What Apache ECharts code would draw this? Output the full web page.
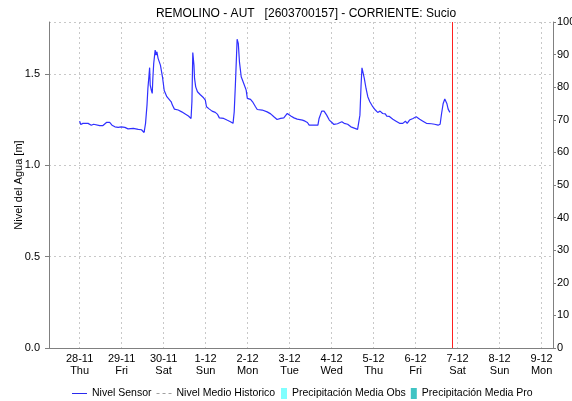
<!DOCTYPE html>
<html>
<head>
<meta charset="utf-8">
<script src="https://cdn.jsdelivr.net/npm/echarts@6/dist/echarts.min.js"></script>
<style>
  html, body { margin: 0; padding: 0; background: #fff; }
  #chart { width: 572px; height: 401px; }
</style>
</head>
<body>
<div id="chart"></div>
<script>
// Nivel del sensor (m) por fecha/hora
const fechas = [
  '2019-11-28 00:00','2019-11-28 00:40','2019-11-28 01:50','2019-11-28 04:50','2019-11-28 06:40',
  '2019-11-28 08:00','2019-11-28 09:00','2019-11-28 11:30','2019-11-28 13:20','2019-11-28 15:20',
  '2019-11-28 16:20','2019-11-28 17:10','2019-11-28 18:30','2019-11-28 20:10','2019-11-28 22:00',
  '2019-11-28 23:50','2019-11-29 01:50','2019-11-29 03:40','2019-11-29 06:40','2019-11-29 09:30',
  '2019-11-29 11:20','2019-11-29 12:20','2019-11-29 12:50','2019-11-29 13:40','2019-11-29 14:30',
  '2019-11-29 15:00','2019-11-29 15:40','2019-11-29 16:00','2019-11-29 16:20','2019-11-29 17:00',
  '2019-11-29 17:30','2019-11-29 17:50','2019-11-29 18:20','2019-11-29 19:10','2019-11-29 19:40',
  '2019-11-29 20:10','2019-11-29 20:50','2019-11-29 21:20','2019-11-29 22:10','2019-11-29 23:20',
  '2019-11-30 00:20','2019-11-30 01:50','2019-11-30 04:20','2019-11-30 05:00','2019-11-30 06:10',
  '2019-11-30 08:20','2019-11-30 10:20','2019-11-30 12:20','2019-11-30 14:10','2019-11-30 15:40',
  '2019-11-30 16:10','2019-11-30 16:40','2019-11-30 17:20','2019-11-30 17:40','2019-11-30 18:20',
  '2019-11-30 19:20','2019-11-30 20:50','2019-11-30 22:50','2019-11-30 23:50','2019-12-01 00:30',
  '2019-12-01 02:10','2019-12-01 03:40','2019-12-01 05:30','2019-12-01 06:50','2019-12-01 07:50',
  '2019-12-01 08:50','2019-12-01 10:20','2019-12-01 12:10','2019-12-01 14:10','2019-12-01 15:40',
  '2019-12-01 16:20','2019-12-01 17:00','2019-12-01 17:40','2019-12-01 18:00','2019-12-01 18:40',
  '2019-12-01 19:20','2019-12-01 20:20','2019-12-01 22:00','2019-12-01 23:10','2019-12-01 23:50',
  '2019-12-02 01:40','2019-12-02 02:50','2019-12-02 04:30','2019-12-02 05:30','2019-12-02 06:20',
  '2019-12-02 08:20','2019-12-02 09:20','2019-12-02 11:10','2019-12-02 13:10','2019-12-02 15:00',
  '2019-12-02 16:50','2019-12-02 18:50','2019-12-02 20:40','2019-12-02 22:40','2019-12-02 23:40',
  '2019-12-03 00:40','2019-12-03 02:30','2019-12-03 04:20','2019-12-03 07:20','2019-12-03 08:50',
  '2019-12-03 10:10','2019-12-03 11:10','2019-12-03 14:00','2019-12-03 16:10','2019-12-03 16:50',
  '2019-12-03 18:20','2019-12-03 19:40','2019-12-03 21:10','2019-12-03 22:40','2019-12-04 00:10',
  '2019-12-04 01:20','2019-12-04 03:20','2019-12-04 04:20','2019-12-04 05:50','2019-12-04 07:10',
  '2019-12-04 09:10','2019-12-04 11:00','2019-12-04 12:00','2019-12-04 14:50','2019-12-04 15:50',
  '2019-12-04 16:10','2019-12-04 16:50','2019-12-04 17:20','2019-12-04 17:50','2019-12-04 18:10',
  '2019-12-04 18:40','2019-12-04 19:40','2019-12-04 20:40','2019-12-04 21:50','2019-12-04 23:30',
  '2019-12-05 01:00','2019-12-05 02:20','2019-12-05 03:40','2019-12-05 05:10','2019-12-05 06:40',
  '2019-12-05 07:30','2019-12-05 09:00','2019-12-05 11:00','2019-12-05 12:50','2019-12-05 14:50',
  '2019-12-05 16:40','2019-12-05 18:10','2019-12-05 19:10','2019-12-05 20:30','2019-12-05 22:30',
  '2019-12-06 00:20','2019-12-06 02:20','2019-12-06 04:10','2019-12-06 06:10','2019-12-06 09:00',
  '2019-12-06 10:50','2019-12-06 12:50','2019-12-06 13:25','2019-12-06 14:00','2019-12-06 14:50',
  '2019-12-06 15:45','2019-12-06 16:40','2019-12-06 17:15','2019-12-06 17:50','2019-12-06 18:35',
  '2019-12-06 19:35'
];
const nivel = [
  1.242,1.224,1.230,1.230,1.220,
  1.225,1.215,1.218,1.218,1.235,
  1.228,1.235,1.220,1.211,1.208,
  1.211,1.208,1.200,1.203,1.197,
  1.195,1.190,1.180,1.230,1.330,
  1.420,1.494,1.535,1.440,1.410,
  1.394,1.476,1.558,1.631,1.604,
  1.622,1.586,1.590,1.549,1.485,
  1.410,1.376,1.348,1.330,1.308,
  1.303,1.293,1.281,1.270,1.257,
  1.348,1.618,1.549,1.476,1.430,
  1.403,1.388,1.370,1.357,1.321,
  1.308,1.297,1.290,1.279,1.260,
  1.268,1.257,1.248,1.239,1.230,
  1.293,1.440,1.604,1.691,1.668,
  1.567,1.485,1.443,1.412,1.367,
  1.361,1.348,1.321,1.306,1.308,
  1.303,1.303,1.293,1.282,1.266,
  1.251,1.257,1.260,1.284,1.277,
  1.270,1.260,1.253,1.248,1.242,
  1.235,1.220,1.220,1.220,1.257,
  1.297,1.297,1.275,1.248,1.235,
  1.224,1.228,1.220,1.239,1.230,
  1.225,1.211,1.211,1.197,1.190,
  1.275,1.440,1.534,1.513,1.520,
  1.476,1.421,1.376,1.348,1.321,
  1.303,1.290,1.297,1.284,1.282,
  1.270,1.268,1.253,1.242,1.230,
  1.230,1.242,1.230,1.248,1.257,
  1.266,1.253,1.242,1.230,1.228,
  1.225,1.220,1.211,1.225,1.284,
  1.339,1.363,1.367,1.339,1.308,
  1.290
];
// Hora de la última lectura (línea roja)
const horaActual = '2019-12-06 20:55';
// Rango del eje de tiempo
const inicioEje = '2019-11-27 06:30';
const finEje = '2019-12-09 06:30';
// Ejes verticales
const ticksNivel = { min: 0, max: 1.785, interval: 0.5 };
const ticksPrecip = { min: 0, max: 100, interval: 10 };
const diasSemana = ['Sun', 'Mon', 'Tue', 'Wed', 'Thu', 'Fri', 'Sat'];
// Precipitación (sin registros en el periodo)
const precipObs = [];
const precipPro = [];
const nivelMedio = [];

const titulo = 'REMOLINO - AUT   [2603700157] - CORRIENTE: Sucio';
const FONT = 'Liberation Sans, Arial, sans-serif';

function parseFecha(s) {
  const [d, t] = s.split(' ');
  const [y, m, dd] = d.split('-').map(Number);
  const [hh, mm] = t.split(':').map(Number);
  return new Date(y, m - 1, dd, hh, mm).getTime();
}

const serieNivel = fechas.map((f, i) => [parseFecha(f), nivel[i]]);
const ejeMin = parseFecha(inicioEje);
const ejeMax = parseFecha(finEje);

// Iconos de leyenda: línea fina y línea discontinua
const iconoLinea = 'path://M0,5 L15,5 L15,6 L0,6 Z';
const iconoDiscontinua = 'path://M0,5 L3,5 L3,6 L0,6 Z M6,5 L9,5 L9,6 L6,6 Z M12,5 L15,5 L15,6 L12,6 Z';
const legendText = { fontFamily: FONT, fontSize: 10.5, color: '#000' };

const chart = echarts.init(document.getElementById('chart'), null, { renderer: 'canvas' });

chart.setOption({
  animation: false,
  backgroundColor: '#fff',
  textStyle: { fontFamily: FONT },
  title: {
    text: titulo,
    left: 301, top: 3, textAlign: 'center',
    textStyle: { fontFamily: FONT, fontSize: 12, fontWeight: 'normal', color: '#000' }
  },
  legend: [
    {
      left: 72, top: 388, padding: 0,
      itemGap: 5, itemWidth: 15, itemHeight: 11,
      textStyle: legendText,
      data: [
        { name: 'Nivel Sensor', icon: iconoLinea, itemStyle: { color: '#2a2aee' } },
        { name: 'Nivel Medio Historico', icon: iconoDiscontinua, itemStyle: { color: '#a0a0a0' } }
      ]
    },
    {
      left: 281, top: 388, padding: 0,
      itemGap: 5, itemWidth: 6, itemHeight: 11,
      textStyle: legendText,
      data: [
        { name: 'Precipitación Media Obs', icon: 'rect', itemStyle: { color: '#80ffff' } },
        { name: 'Precipitación Media Pro', icon: 'rect', itemStyle: { color: '#40c4c4' } }
      ]
    }
  ],
  grid: { left: 49, right: 19, top: 22, bottom: 53, containLabel: false, outerBoundsMode: 'none' },
  xAxis: [
    {
      type: 'time',
      min: ejeMin, max: ejeMax,
      minInterval: 24 * 3600 * 1000, maxInterval: 24 * 3600 * 1000,
      axisLine: { show: true, lineStyle: { color: '#333', type: 'dotted', width: 1 } },
      axisTick: { show: false },
      axisLabel: {
        color: '#000', fontSize: 11, fontFamily: FONT, margin: 5, lineHeight: 12,
        hideOverlap: false,
        formatter: function (v) {
          const d = new Date(v);
          if (d.getHours() !== 0 || d.getMinutes() !== 0) return '';
          return d.getDate() + '-' + (d.getMonth() + 1) + '\n' + diasSemana[d.getDay()];
        }
      },
      splitLine: { show: true, lineStyle: { color: '#c8c8c8', type: [2, 3], width: 1 } }
    },
    {
      type: 'time', position: 'top',
      min: ejeMin, max: ejeMax,
      axisLine: { show: true, lineStyle: { color: '#808080', width: 1 } },
      axisTick: { show: false }, axisLabel: { show: false }, splitLine: { show: false }
    }
  ],
  yAxis: [
    {
      type: 'value',
      min: ticksNivel.min, max: ticksNivel.max, interval: ticksNivel.interval,
      name: 'Nivel del Agua [m]', nameLocation: 'middle', nameGap: 25, nameRotate: 90,
      nameMoveOverlap: false,
      nameTextStyle: { color: '#000', fontSize: 11, fontFamily: FONT },
      axisLine: { show: true, lineStyle: { color: '#808080', width: 1 } },
      axisTick: { show: true, length: 4, lineStyle: { color: '#808080' } },
      axisLabel: {
        color: '#000', fontSize: 11, fontFamily: FONT, margin: 9, showMaxLabel: false,
        formatter: v => (v > 1.7 ? '' : v.toFixed(1))
      },
      splitLine: { show: true, lineStyle: { color: '#c8c8c8', type: [2, 3], width: 1 } }
    },
    {
      type: 'value', position: 'right',
      min: ticksPrecip.min, max: ticksPrecip.max, interval: ticksPrecip.interval,
      axisLine: { show: true, lineStyle: { color: '#808080', width: 1 } },
      axisTick: { show: true, length: 3, lineStyle: { color: '#808080' } },
      axisLabel: { color: '#000', fontSize: 11, fontFamily: FONT, margin: 4 },
      splitLine: { show: false }
    }
  ],
  series: [
    {
      name: 'Nivel Sensor', type: 'line', xAxisIndex: 0, yAxisIndex: 0,
      data: serieNivel, showSymbol: false, symbol: 'none',
      lineStyle: { color: '#3030ff', width: 1.2 },
      itemStyle: { color: '#3030ff' },
      markLine: {
        silent: true, symbol: 'none', animation: false,
        label: { show: false },
        lineStyle: { color: '#ff2020', width: 1, type: 'solid' },
        data: [{ xAxis: parseFecha(horaActual) }]
      }
    },
    {
      name: 'Nivel Medio Historico', type: 'line', xAxisIndex: 0, yAxisIndex: 0,
      data: nivelMedio, symbol: 'none',
      lineStyle: { color: '#a0a0a0', width: 1, type: [3, 3] },
      itemStyle: { color: '#a0a0a0' }
    },
    {
      name: 'Precipitación Media Obs', type: 'line', xAxisIndex: 0, yAxisIndex: 1,
      data: precipObs, symbol: 'none', itemStyle: { color: '#80ffff' }
    },
    {
      name: 'Precipitación Media Pro', type: 'line', xAxisIndex: 0, yAxisIndex: 1,
      data: precipPro, symbol: 'none', itemStyle: { color: '#40c4c4' }
    }
  ]
});
</script>
</body>
</html>
